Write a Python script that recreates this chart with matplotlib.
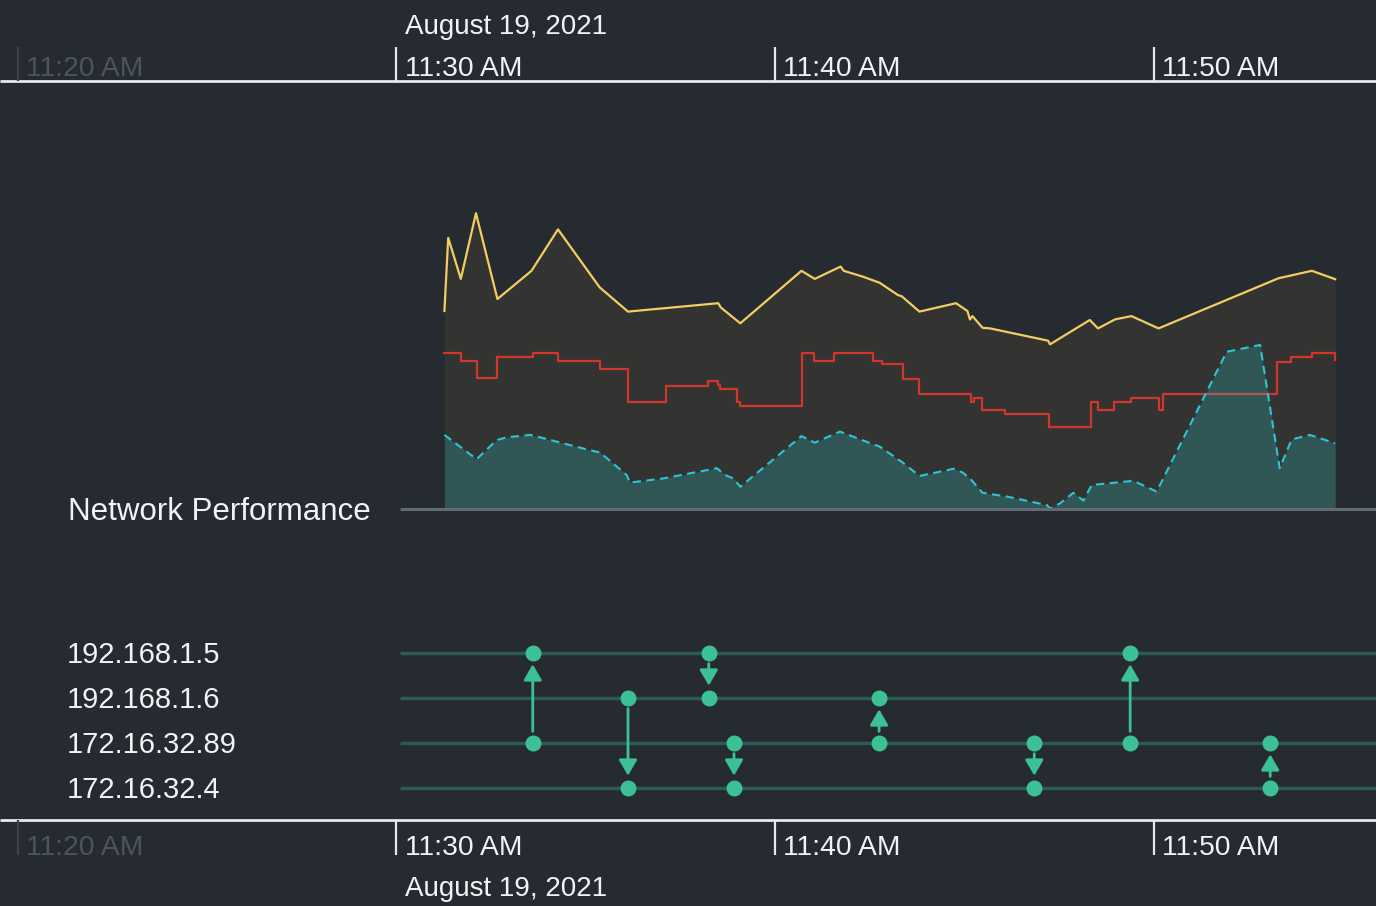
import numpy as np
import pandas as pd
import matplotlib
matplotlib.use('Agg')
import matplotlib.pyplot as plt
import matplotlib.dates as mdates

plt.rcParams['font.family'] = ['Liberation Sans', 'DejaVu Sans']

DAY = '2021-08-19 '

# yellow series: bandwidth
bw_times = ['11:31:16', '11:31:22', '11:31:42', '11:32:06', '11:32:40',
            '11:33:34', '11:34:16', '11:35:22', '11:36:07', '11:38:30',
            '11:38:34', '11:39:05', '11:40:42', '11:41:03', '11:41:44',
            '11:41:49', '11:42:20', '11:42:46', '11:43:15', '11:43:21',
            '11:43:49', '11:44:47', '11:45:05', '11:45:09', '11:45:13',
            '11:45:29', '11:45:41', '11:47:13', '11:47:16', '11:48:19',
            '11:48:32', '11:48:59', '11:49:25', '11:50:08', '11:53:18',
            '11:54:11', '11:54:48']
bw_vals = [66.0, 90.4, 76.7, 98.6, 70.0, 79.4, 93.2, 73.9, 65.8, 68.6,
           67.2, 61.9, 79.4, 76.7, 80.8, 79.4, 77.4, 75.4, 71.3, 70.9,
           65.8, 68.6, 66.0, 63.2, 64.3, 60.4, 60.2, 56.1, 54.9, 63.0,
           60.2, 63.2, 64.3, 60.2, 76.9, 79.4, 76.6]

# red series: latency (step line)
lat_times = ['11:31:16', '11:31:43', '11:32:07', '11:32:40', '11:33:36',
             '11:34:16', '11:35:22', '11:36:07', '11:37:07', '11:38:14',
             '11:38:30', '11:38:33', '11:39:00', '11:39:05', '11:40:43',
             '11:41:02', '11:41:34', '11:42:35', '11:42:49', '11:43:23',
             '11:43:49', '11:45:11', '11:45:15', '11:45:28', '11:46:05',
             '11:47:15', '11:48:21', '11:48:32', '11:48:58', '11:49:24',
             '11:50:08', '11:50:15', '11:53:16', '11:53:38', '11:54:11',
             '11:54:48']
lat_vals = [52.1, 49.3, 43.8, 50.8, 52.1, 49.3, 46.7, 35.7, 41.1, 42.6,
            41.2, 39.9, 35.7, 34.3, 52.1, 49.4, 52.1, 49.4, 48.2, 43.5,
            38.3, 35.7, 37.1, 33.0, 31.6, 27.4, 35.8, 33.0, 35.8, 37.1,
            33.0, 38.3, 49.1, 50.8, 52.1, 49.7]

# teal series: packet loss (dashed area)
loss_times = ['11:31:16', '11:32:07', '11:32:39', '11:32:55', '11:33:32',
              '11:33:53', '11:35:01', '11:35:23', '11:36:05', '11:36:10',
              '11:37:03', '11:38:28', '11:38:41', '11:38:54', '11:39:05',
              '11:40:42', '11:41:03', '11:41:43', '11:42:15', '11:42:46',
              '11:43:23', '11:43:49', '11:44:43', '11:44:58', '11:45:09',
              '11:45:29', '11:46:09', '11:47:11', '11:47:16', '11:47:32',
              '11:47:53', '11:48:09', '11:48:22', '11:49:28', '11:50:05',
              '11:51:56', '11:52:49', '11:53:20', '11:53:39', '11:54:08',
              '11:54:48']
loss_vals = [24.7, 16.6, 23.0, 23.9, 24.7, 23.6, 19.9, 18.8, 11.3, 8.8,
             10.2, 13.6, 11.3, 10.2, 7.4, 24.3, 22.1, 25.8, 23.2, 20.8,
             15.4, 11.0, 13.4, 12.1, 10.2, 5.4, 4.1, 1.3, 0.1, 1.9,
             5.4, 2.8, 8.0, 9.4, 5.8, 52.4, 54.7, 13.6, 23.2, 24.7,
             21.9]

# connections between hosts
hosts = ['192.168.1.5', '192.168.1.6', '172.16.32.89', '172.16.32.4']
ev_times = ['11:33:36', '11:36:07', '11:38:15', '11:38:55',
            '11:42:45', '11:46:51', '11:49:23', '11:53:05']
ev_src = ['172.16.32.89', '192.168.1.6', '192.168.1.5', '172.16.32.89',
          '172.16.32.89', '172.16.32.89', '172.16.32.89', '172.16.32.4']
ev_dst = ['192.168.1.5', '172.16.32.4', '192.168.1.6', '172.16.32.4',
          '192.168.1.6', '172.16.32.4', '192.168.1.5', '172.16.32.89']

tick_times = ['11:20', '11:30', '11:40', '11:50']
tick_labels = ['11:20 AM', '11:30 AM', '11:40 AM', '11:50 AM']
date_label = 'August 19, 2021'


def ts(times):
    return mdates.date2num(pd.to_datetime([DAY + t for t in times]).values)


# visible time window and start of the panels
view_start, view_end = ts(['11:19:31.5', '11:55:52.7'])
panel_start = ts(['11:30:05'])[0]

BG = '#262b31'
AXIS = '#e4e9ec'
DIM = '#4d555b'
TEXT = '#f1f4f6'
GREEN = '#3cc196'

W, H = 1376, 906
fig = plt.figure(figsize=(W / 100, H / 100), dpi=100, facecolor=BG)


def strip(top, bottom):
    """Axes spanning the full width between two pixel rows."""
    ax = fig.add_axes([0, 1 - bottom / H, 1, (bottom - top) / H])
    ax.set_facecolor('none')
    ax.set_xlim(view_start, view_end)
    for s in ax.spines.values():
        s.set_visible(False)
    ax.set_xticks([])
    ax.set_yticks([])
    return ax


def time_axis(ax, line_y, tick_end, label_base, date_base):
    ax.hlines(line_y, view_start, view_end, color=AXIS, lw=2, clip_on=False)
    for i, (t, lab) in enumerate(zip(ts(tick_times), tick_labels)):
        c = DIM if i == 0 else TEXT
        tc = '#3b4248' if i == 0 else AXIS
        ax.vlines(t, line_y, tick_end, color=tc, lw=1.6)
        ax.annotate(lab, xy=(t, label_base), xytext=(6, 0),
                    textcoords='offset points', color=c, fontsize=20.3,
                    va='baseline', ha='left')
    ax.annotate(date_label, xy=(ts(tick_times)[1], date_base), xytext=(6, 0),
                textcoords='offset points', color=TEXT, fontsize=20,
                va='baseline', ha='left')


# top time axis (y in pixel rows)
ax_top = strip(0, 81)
ax_top.set_ylim(81, 0)
time_axis(ax_top, 81, 47, 75.5, 33.5)

# bottom time axis
ax_bot = strip(820, 906)
ax_bot.set_ylim(906, 820)
time_axis(ax_bot, 820, 855, 855, 896)

# network performance chart
ax = strip(209, 509)
ax.set_ylim(0, 100)
bw_x, lat_x, loss_x = ts(bw_times), ts(lat_times), ts(loss_times)
ax.fill_between(bw_x, bw_vals, 0, color='#333431', lw=0, zorder=1)
ax.plot(lat_x, lat_vals, drawstyle='steps-post', color='#d3352d', lw=1.6,
        zorder=2)
ax.fill_between(loss_x, loss_vals, 0, color='#2ec4cf', alpha=0.24, lw=0,
                zorder=3)
ax.plot(loss_x, loss_vals, color='#2bc5d5', lw=1.5, ls=(0, (4, 2.6)),
        zorder=4)
ax.plot(bw_x, bw_vals, color='#f3cd62', lw=1.6, zorder=5)
ax.hlines(0, panel_start, view_end, color='#5f6a72', lw=2.2, zorder=6,
          clip_on=False)
ax.annotate('Network Performance', xy=(68 / W, 0),
            xycoords=('axes fraction', 'data'), xytext=(0, -8),
            textcoords='offset points', color=TEXT, fontsize=22.5,
            va='baseline', ha='left')

# host lanes
ax_l = strip(630, 810)
ax_l.set_ylim(len(hosts) - 0.5, -0.5)
for i, host in enumerate(hosts):
    ax_l.hlines(i, panel_start, view_end, color='#2c5a54', lw=2.5, zorder=1)
    ax_l.annotate(host, xy=(67 / W, i), xycoords=('axes fraction', 'data'),
                  xytext=(0, -7.5), textcoords='offset points', color=TEXT,
                  fontsize=21, va='baseline', ha='left')

for t, s, d in zip(ts(ev_times), ev_src, ev_dst):
    si, di = hosts.index(s), hosts.index(d)
    ax_l.plot([t, t], [si, di], 'o', ms=11.5, color=GREEN, mec='none',
              zorder=3)
    ax_l.annotate('', xy=(t, di), xytext=(t, si),
                  arrowprops=dict(arrowstyle='-|>,head_length=0.95,head_width=0.55',
                                  color=GREEN, lw=2, shrinkA=8, shrinkB=8.5,
                                  mutation_scale=10),
                  zorder=2)

fig.savefig('out.png', dpi=100, facecolor=BG)
